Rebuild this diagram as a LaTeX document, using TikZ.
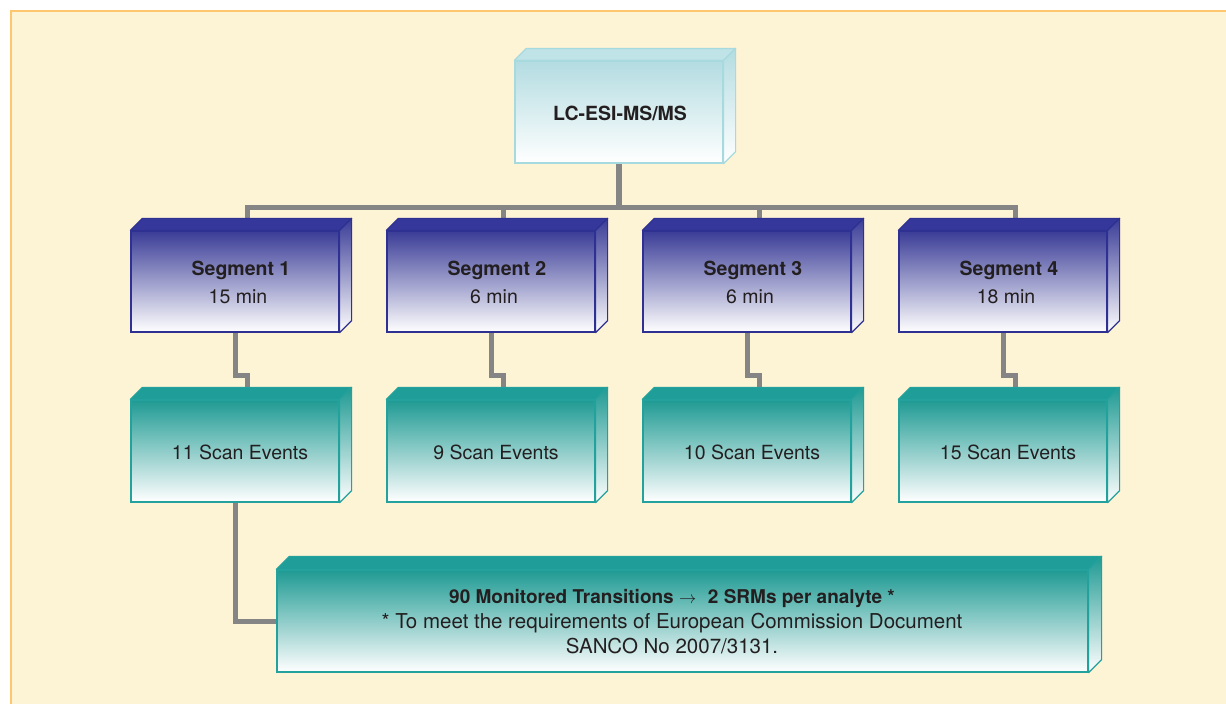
\documentclass[tikz,border=0pt]{standalone}
\usepackage{fontspec}
\setmainfont{TeX Gyre Heros}
\usetikzlibrary{calc}
\definecolor{cream}{HTML}{FDF3D5}
\definecolor{orangeline}{HTML}{FFC670}
\definecolor{conngray}{HTML}{858585}
\definecolor{txt}{HTML}{231F20}
\definecolor{navy}{HTML}{2E3192}
\definecolor{navytop}{HTML}{35379A}
\definecolor{navyshade}{HTML}{3A3C97}
\definecolor{tealb}{HTML}{22A19D}
\definecolor{tealtop}{HTML}{1F9D98}
\definecolor{tealshade}{HTML}{1F9A93}
\definecolor{cyanb}{HTML}{A6DADF}
\definecolor{cyantop}{HTML}{BFE3E6}
\definecolor{cyanshade}{HTML}{B3DCE1}
\pgfdeclarelayer{bg}
\pgfdeclarelayer{conn}
\pgfsetlayers{bg,conn,main}
% faces of a 3-D box: name, depth, face colour, shade colour, border colour
\newcommand\cubefaces[5]{%
  \filldraw[fill=#3,draw=#5,line width=1.2pt,line join=round]
    (#1.north west) -- ++(#2,-#2) -- ($(#1.north east)+(#2,-#2)$) -- (#1.north east) -- cycle;
  \shadedraw[top color=#4,bottom color=white,draw=#5,line width=1.2pt,line join=round]
    (#1.north east) -- ++(#2,-#2) -- ($(#1.south east)+(#2,-#2)$) -- (#1.south east) -- cycle;
}
\begin{document}
\begin{tikzpicture}[x=1pt,y=-1pt,
  every node/.style={text=txt,font=\fontsize{19.5}{25}\selectfont},
  mainbox/.style={draw=cyanb,line width=1.2pt,top color=cyanshade,bottom color=white,
    minimum width=208pt,minimum height=102pt,inner sep=0pt},
  segbox/.style={draw=navy,line width=1.2pt,top color=navyshade,bottom color=white,
    minimum width=208pt,minimum height=101pt,inner sep=0pt},
  scanbox/.style={draw=tealb,line width=1.2pt,top color=tealshade,bottom color=white,
    minimum width=208pt,minimum height=102pt,inner sep=0pt},
  botbox/.style={draw=tealb,line width=1.2pt,top color=tealshade,bottom color=white,
    minimum width=811pt,minimum height=102pt,inner sep=0pt},
  conn/.style={draw=conngray,line width=5pt},
  lbl/.style={inner sep=0pt},
  boldlbl/.style={inner sep=0pt,font=\bfseries\fontsize{19.5}{25}\selectfont}]
\useasboundingbox (0,0) rectangle (1226,704);
\begin{pgfonlayer}{bg}
  \fill[white] (0,0) rectangle (1226,704);
  \fill[cream] (10,10) rectangle (1226,704);
  \draw[orangeline,line width=1.6pt] (10.8,704) -- (10.8,10.8) -- (1226,10.8);
\end{pgfonlayer}

% main box
\node[mainbox] (lc) at (619,112) {};
\cubefaces{lc}{12}{cyantop}{cyanshade}{cyanb}
\node[boldlbl] (lct) at (620,113) {LC-ESI-MS/MS};

% segment and scan boxes
\foreach \i/\tt/\mm/\sc [count=\k from 0] in {1/Segment 1/15 min/11 Scan Events,2/Segment 2/6 min/9 Scan Events,3/Segment 3/6 min/10 Scan Events,4/Segment 4/18 min/15 Scan Events}{
  \node[segbox] (s\i) at (235+256*\k,281.5) {};
  \cubefaces{s\i}{12}{navytop}{navyshade}{navy}
  \node[boldlbl] (st\i) at (241+256*\k,270) {\tt};
  \node[lbl] (sm\i) at (238+256*\k,297) {\mm};
  \node[scanbox] (c\i) at (235+256*\k,451) {};
  \cubefaces{c\i}{12}{tealtop}{tealshade}{tealb}
  \node[lbl] (ct\i) at (240+256*\k,452) {\sc};
  \coordinate (ts\i) at ($(s\i.north)+(12,-12)$);
  \coordinate (tc\i) at ($(c\i.north)+(12,-12)$);
}

% bottom box
\node[botbox] (bot) at (682.5,621) {};
\cubefaces{bot}{13}{tealtop}{tealshade}{tealb}
\node[lbl,align=center,font=\fontsize{20.5}{25}\selectfont] (bt) at (672,622)
  {{\bfseries\fontsize{19}{25}\selectfont 90 Monitored Transitions {\mdseries$\rightarrow$}\,\, 2 SRMs per analyte *}\\
* To meet the requirements of European Commission Document\\
SANCO No 2007/3131.};

% connectors
\coordinate (hub) at ($(lc.south)+(0,43.5)$);
\begin{pgfonlayer}{conn}
  \draw[conn,line width=6pt] (lc.south) -- (hub);
  \draw[conn,line cap=rect] (ts1) -- (ts1|-hub) -- (ts4|-hub) -- (ts4);
  \draw[conn] (ts2) -- (ts2|-hub);
  \draw[conn] (ts3) -- (ts3|-hub);
  \foreach \i in {1,2,3,4}{
    \draw[conn] (s\i.south) -- ++(0,43) -| (tc\i);
  }
  \draw[conn] (c1.south) |- (bot.west);
\end{pgfonlayer}
\end{tikzpicture}
\end{document}
